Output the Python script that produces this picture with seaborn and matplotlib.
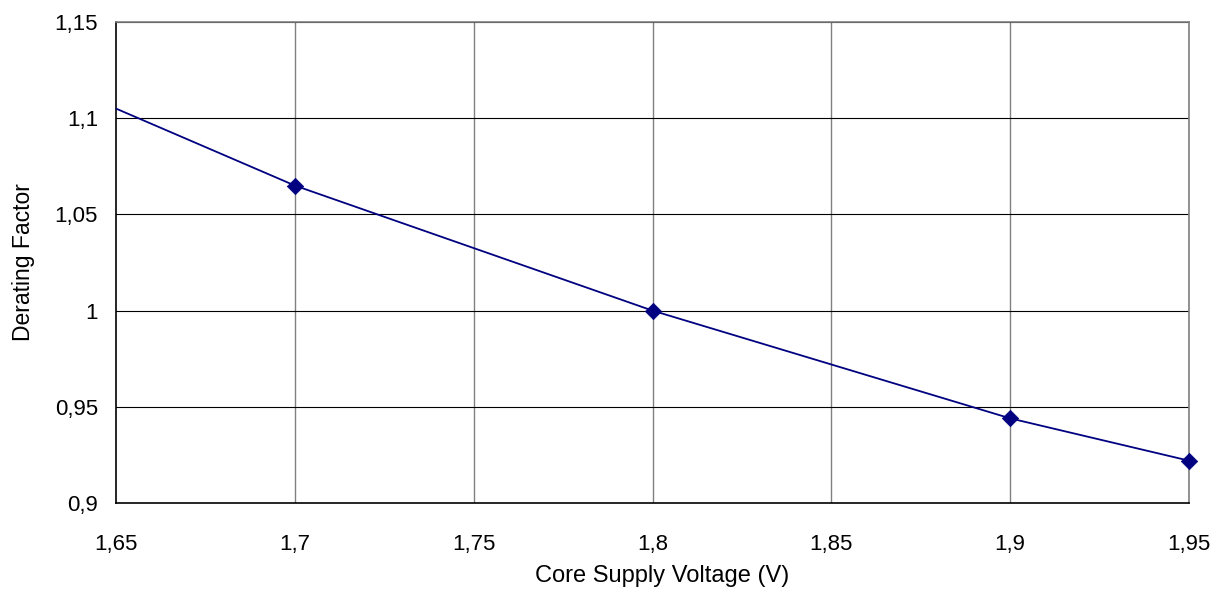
import matplotlib
matplotlib.use("Agg")
import pandas as pd
import matplotlib.pyplot as plt
import seaborn as sns

# values (first point sits left of the visible range)
voltage = [1.60, 1.70, 1.80, 1.90, 1.95]
derating = [1.145, 1.065, 1.000, 0.944, 0.922]

x_ticks = [1.65, 1.70, 1.75, 1.80, 1.85, 1.90, 1.95]
x_labels = ["1,65", "1,7", "1,75", "1,8", "1,85", "1,9", "1,95"]
y_ticks = [0.90, 0.95, 1.00, 1.05, 1.10, 1.15]
y_labels = ["0,9", "0,95", "1", "1,05", "1,1", "1,15"]


def main():
    sns.set_style("white")
    plt.rcParams["font.family"] = ["Liberation Sans", "DejaVu Sans"]
    plt.rcParams["text.color"] = "black"
    plt.rcParams["axes.labelcolor"] = "black"
    plt.rcParams["xtick.color"] = "black"
    plt.rcParams["ytick.color"] = "black"

    df = pd.DataFrame({"voltage": voltage, "derating": derating})
    shown = df[(df["voltage"] >= 1.65) & (df["voltage"] <= 1.95)]

    fig = plt.figure(figsize=(12.17, 5.98), dpi=100)
    ax = fig.add_axes([116 / 1217, 1 - 503 / 598, 1073 / 1217, 481 / 598])

    # grid: vertical lines grey, horizontal black
    for xv in x_ticks[1:]:
        ax.axvline(xv, color="#808080", lw=1.0, zorder=1)
    for yv in y_ticks[1:]:
        ax.axhline(yv, color="black", lw=0.8, zorder=1)

    sns.lineplot(data=df, x="voltage", y="derating", ax=ax, color="#000080",
                 linewidth=1.3, zorder=3)
    sns.scatterplot(data=shown, x="voltage", y="derating", ax=ax,
                    color="#000080", marker="D", s=70, edgecolor="#000080",
                    linewidth=0.5, zorder=4, clip_on=False)

    ax.set_xlim(1.65, 1.95)
    ax.set_ylim(0.9, 1.15)
    ax.set_xticks(x_ticks)
    ax.set_xticklabels(x_labels)
    ax.set_yticks(y_ticks)
    ax.set_yticklabels(y_labels)
    ax.tick_params(axis="both", direction="out", length=7, width=1,
                   color="black", labelsize=16)
    ax.tick_params(axis="x", pad=15)
    ax.tick_params(axis="y", pad=6)

    ax.set_xlabel("Core Supply Voltage (V)", fontsize=17)
    ax.xaxis.set_label_coords(0.509, -0.128)
    ax.set_ylabel("Derating Factor", fontsize=16.5, labelpad=14)

    for side in ["left", "bottom"]:
        ax.spines[side].set_color("black")
        ax.spines[side].set_linewidth(1.2)
    for side in ["top", "right"]:
        ax.spines[side].set_visible(True)
        ax.spines[side].set_color("#808080")
        ax.spines[side].set_linewidth(1.2)

    fig.savefig("out.png", dpi=100, facecolor="white")


if __name__ == "__main__":
    main()
